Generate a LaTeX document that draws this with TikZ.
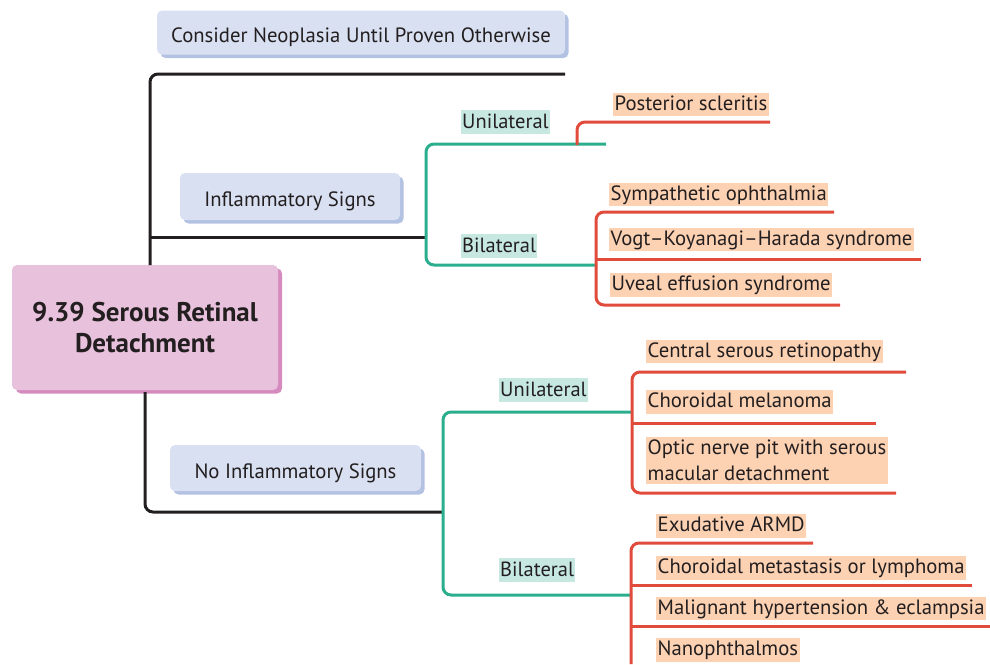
\documentclass[tikz,border=0pt]{standalone}
\usepackage{fontspec}
\setmainfont{PT Sans}
\usetikzlibrary{shadows}
\definecolor{boxblue}{HTML}{D8E0F1}
\definecolor{shblue}{HTML}{B3C2E3}
\definecolor{boxpink}{HTML}{E8C1DC}
\definecolor{shpink}{HTML}{D68BBE}
\definecolor{tealline}{HTML}{2BAE8E}
\definecolor{tealfill}{HTML}{C6E8E1}
\definecolor{redline}{HTML}{E14B3B}
\definecolor{peach}{HTML}{FDD2B3}
\definecolor{ink}{HTML}{231F20}
\tikzset{
  bluebox/.style={fill=boxblue, rounded corners=5pt, inner sep=0pt, text=ink, font=\fontsize{20.7}{24}\selectfont,
    text height=20pt, text depth=0pt,
    drop shadow={shadow xshift=3.5pt, shadow yshift=-3.5pt, fill=shblue, opacity=1}},
  mainbox/.style={fill=boxpink, rounded corners=5pt, inner sep=0pt, text=ink, align=center,
    font=\fontsize{27}{31}\selectfont\bfseries,
    drop shadow={shadow xshift=4pt, shadow yshift=-3.5pt, fill=shpink, opacity=1}},
  sidelbl/.style={fill=tealfill, inner xsep=1pt, inner ysep=0pt, text=ink, anchor=west,
    text height=18pt, text depth=5.5pt, font=\fontsize{20.5}{24}\selectfont},
  leaf/.style={fill=peach, inner xsep=1.5pt, inner ysep=0pt, text=ink, anchor=west, align=left,
    font=\fontsize{20.7}{26}\selectfont},
  leaf1/.style={leaf, text height=17.5pt, text depth=6pt},
  blkline/.style={draw=ink, line width=3pt, rounded corners=8pt},
  tline/.style={draw=tealline, line width=3pt, rounded corners=8pt},
  rline/.style={draw=redline, line width=3pt, rounded corners=8pt},
}
\begin{document}
\begin{tikzpicture}[x=1pt,y=-1pt]
\useasboundingbox (0,0) rectangle (990,664);

% boxes
\node[bluebox, minimum width=408pt, minimum height=44pt] (neo) at (361,32.5) {Consider Neoplasia Until Proven Otherwise};
\node[bluebox, minimum width=220pt, minimum height=47pt] (infl) at (290,196.5) {Inflammatory Signs};
\node[bluebox, minimum width=251pt, minimum height=46pt] (noinfl) at (295.5,468) {No Inflammatory Signs};
\node[mainbox, minimum width=266pt, minimum height=125pt] (main) at (145,327.5) {9.39 Serous Retinal\\Detachment};

% side labels
\node[sidelbl] (u1) at (461,122) {Unilateral};
\node[sidelbl] (b1) at (461,246) {Bilateral};
\node[sidelbl] (u2) at (499,390) {Unilateral};
\node[sidelbl] (b2) at (499,570) {Bilateral};

% leaves
\node[leaf1] (ps) at (613,104.5) {Posterior scleritis};
\node[leaf1] (so) at (609,194.5) {Sympathetic ophthalmia};
\node[leaf1] (vkh) at (609,239.5) {Vogt–Koyanagi–Harada syndrome};
\node[leaf1] (ue) at (610,285) {Uveal effusion syndrome};
\node[leaf1] (csr) at (646,351.5) {Central serous retinopathy};
\node[leaf1] (cm) at (646,402) {Choroidal melanoma};
\node[leaf] (onp) at (646,460.5) {\rule{0pt}{17.5pt}Optic nerve pit with serous\\macular detachment\rule[-4pt]{0pt}{4pt}};
\node[leaf1] (ea) at (656,526) {Exudative ARMD};
\node[leaf1] (cml) at (656,568) {Choroidal metastasis or lymphoma};
\node[leaf1] (mh) at (656,608.5) {Malignant hypertension \& eclampsia};
\node[leaf1] (nan) at (656,650) {Nanophthalmos};

% junction coordinates
\coordinate (topend) at (565,74);
\coordinate (mtop) at (150,265);
\coordinate (jb1) at (150,237);
\coordinate (jt1) at (426,237);
\coordinate (mbot) at (145,392);
\coordinate (jt2) at (443,512);

% black connectors
\draw[blkline] (topend) -| (mtop);
\draw[blkline, rounded corners=0pt] (jb1) -- (jt1);
\draw[blkline] (mbot) |- (jt2);

% teal brackets
\draw[tline] (606,144) -- (426,144) -- (426,265) -- (597,265);
\draw[tline] (631,412) -- (443,412) -- (443,595) -- (632,595);

% red: inflammatory unilateral
\draw[rline] (577,145) |- (770,122);
% red: inflammatory bilateral
\draw[rline] (834,212) -- (596,212) -- (596,305) -- (840,305);
\draw[rline, rounded corners=0pt] (596,259) -- (921,259);
% red: non-inflammatory unilateral
\draw[rline] (906,372) -- (632,372) -- (632,493) -- (896,493);
\draw[rline, rounded corners=0pt] (632,423) -- (876,423);
% red: non-inflammatory bilateral
\draw[rline] (813,543) -- (631,543) -- (631,664);
\draw[rline, rounded corners=0pt] (631,585) -- (972,585);
\draw[rline, rounded corners=0pt] (631,626) -- (990,626);
\end{tikzpicture}
\end{document}
